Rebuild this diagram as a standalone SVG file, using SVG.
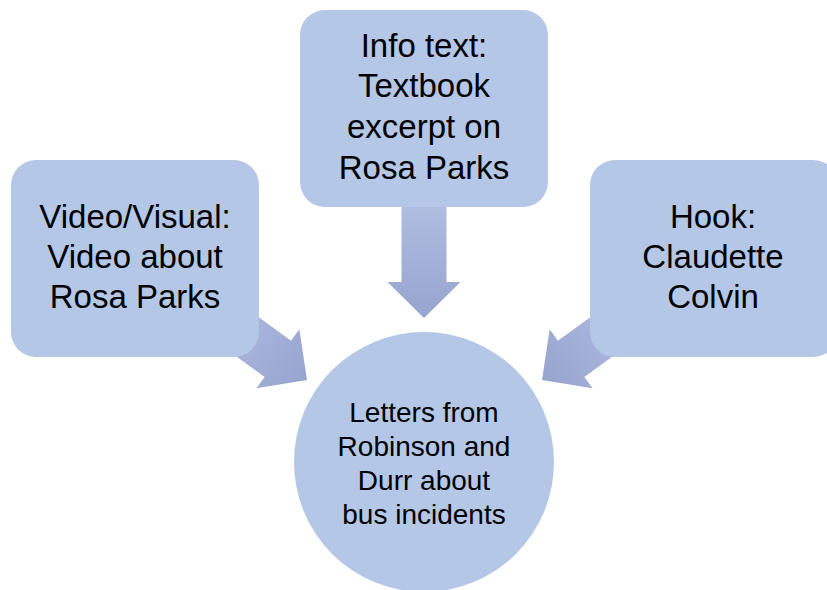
<svg xmlns="http://www.w3.org/2000/svg" width="827" height="590" viewBox="0 0 827 590">
  <defs>
    <linearGradient id="arrowGrad" x1="0" y1="0" x2="1" y2="0">
      <stop offset="0" stop-color="#b3c1e4"/>
      <stop offset="1" stop-color="#97a4cf"/>
    </linearGradient>
    <path id="blockArrow" d="M0,0 L-36,-36.5 L-36,-22.5 L-130,-22.5 L-130,22.5 L-36,22.5 L-36,36.5 Z"/>
  </defs>
  <style>
    .box { fill: #b4c7e7; }
    .arrow { fill: url(#arrowGrad); }
    .lbl { font-family: "Liberation Sans", Arial, sans-serif; font-size: 33px; fill: #000; text-anchor: middle; }
    .clbl { font-family: "Liberation Sans", Arial, sans-serif; font-size: 28px; fill: #000; text-anchor: middle; }
  </style>
  <rect width="827" height="590" fill="#ffffff"/>
  <g id="connectors">
    <use href="#blockArrow" class="arrow" transform="translate(424,318) rotate(90)"/>
    <use href="#blockArrow" class="arrow" transform="translate(307,380) rotate(36)"/>
    <use href="#blockArrow" class="arrow" transform="translate(542,380) rotate(144)"/>
  </g>
  <g id="node-video">
    <rect class="box" x="11" y="160" width="248" height="197" rx="25"/>
    <text class="lbl" x="135" y="228">Video/Visual:</text>
    <text class="lbl" x="135" y="268">Video about</text>
    <text class="lbl" x="135" y="308">Rosa Parks</text>
  </g>
  <g id="node-info">
    <rect class="box" x="300" y="10" width="248" height="197" rx="25"/>
    <text class="lbl" x="424" y="57">Info text:</text>
    <text class="lbl" x="424" y="97">Textbook</text>
    <text class="lbl" x="424" y="138">excerpt on</text>
    <text class="lbl" x="424" y="179">Rosa Parks</text>
  </g>
  <g id="node-hook">
    <rect class="box" x="590" y="160" width="248" height="197" rx="25"/>
    <text class="lbl" x="713" y="228">Hook:</text>
    <text class="lbl" x="713" y="268">Claudette</text>
    <text class="lbl" x="713" y="308">Colvin</text>
  </g>
  <g id="node-letters">
    <circle class="box" cx="424" cy="462" r="130"/>
    <text class="clbl" x="424" y="422">Letters from</text>
    <text class="clbl" x="424" y="456">Robinson and</text>
    <text class="clbl" x="424" y="490">Durr about</text>
    <text class="clbl" x="424" y="524">bus incidents</text>
  </g>
</svg>
